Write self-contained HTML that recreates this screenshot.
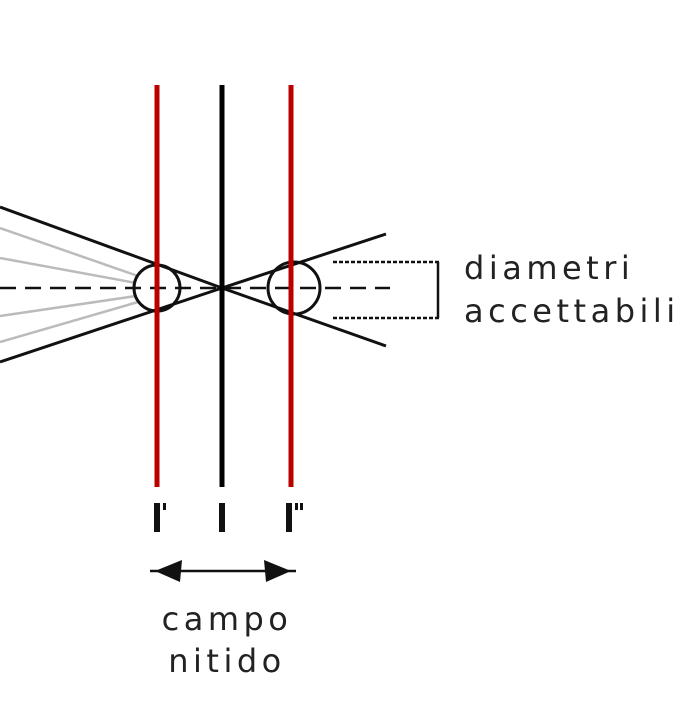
<!DOCTYPE html>
<html><head><style>body{margin:0;background:#fff}</style></head><body>
<svg width="700" height="697" xmlns="http://www.w3.org/2000/svg">
<rect width="700" height="697" fill="#fff"/>
<g stroke="#bbb" stroke-width="2.5">
<line x1="0" y1="228" x2="138" y2="276"/>
<line x1="0" y1="258" x2="136" y2="283"/>
<line x1="0" y1="316" x2="136" y2="296"/>
<line x1="0" y1="342" x2="138" y2="302"/>
</g>
<line x1="0" y1="288" x2="390" y2="288" stroke="#111" stroke-width="2.5" stroke-dasharray="16,9"/>
<g stroke="#111" stroke-width="3" fill="none">
<line x1="0" y1="207" x2="222" y2="288"/>
<line x1="0" y1="362" x2="222" y2="288"/>
<line x1="222" y1="288" x2="386" y2="234"/>
<line x1="222" y1="288" x2="386" y2="346"/>
<circle cx="157" cy="288" r="23"/>
<circle cx="294" cy="288" r="26"/>
</g>
<line x1="157" y1="85" x2="157" y2="487" stroke="#b00" stroke-width="5"/>
<line x1="291" y1="85" x2="291" y2="487" stroke="#b00" stroke-width="5"/>
<line x1="222" y1="85" x2="222" y2="487" stroke="#000" stroke-width="5"/>
<g stroke="#111" stroke-width="2.5" stroke-dasharray="4,2">
<line x1="333" y1="262" x2="440" y2="262"/>
<line x1="333" y1="318" x2="440" y2="318"/>
</g>
<line x1="438" y1="262" x2="438" y2="318" stroke="#111" stroke-width="2.5"/>
<g font-family="'DejaVu Sans','Liberation Sans',sans-serif" font-size="32" fill="#222" letter-spacing="4.5">
<text x="464" y="279">diametri</text>
<text x="464" y="322">accettabili</text>
<text x="227" y="630" text-anchor="middle">campo</text>
<text x="227" y="672" text-anchor="middle">nitido</text>
</g>
<g fill="#111">
<rect x="154" y="503" width="6" height="29"/>
<rect x="163" y="503" width="3" height="7"/>
<rect x="219" y="503" width="6" height="29"/>
<rect x="286" y="503" width="6" height="29"/>
<rect x="295" y="503" width="3" height="7"/>
<rect x="300" y="503" width="3" height="7"/>
</g>
<line x1="150" y1="571" x2="296" y2="571" stroke="#111" stroke-width="2.5"/>
<polygon points="155,571 182,560 180,582" fill="#111"/>
<polygon points="291,571 264,560 266,582" fill="#111"/>
</svg>
</body></html>
